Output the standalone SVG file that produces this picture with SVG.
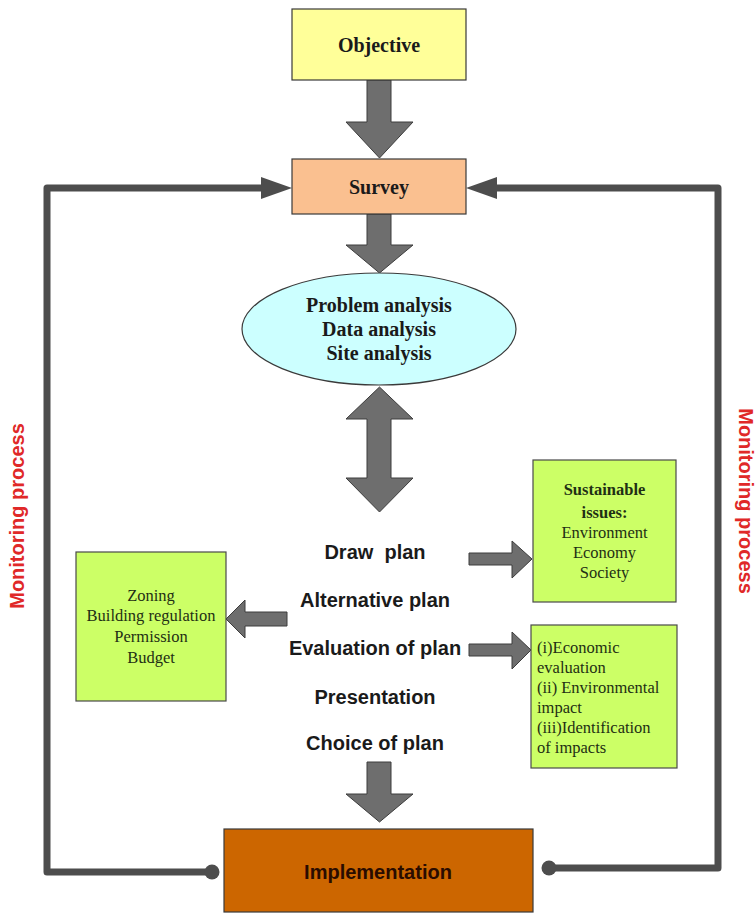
<svg xmlns="http://www.w3.org/2000/svg" width="756" height="913" viewBox="0 0 756 913">
<style>
  .box { stroke: #3a3a3a; stroke-width: 1.2; }
  .green { fill: #ccff66; stroke: #4a4a4a; stroke-width: 1.2; }
  .serifB { font-family: "Liberation Serif", "Times New Roman", serif; font-weight: bold; font-size: 20px; fill: #1a1a1a; text-anchor: middle; }
  .serif { font-family: "Liberation Serif", "Times New Roman", serif; font-size: 16.5px; fill: #1f2f14; }
  .serifSB { font-family: "Liberation Serif", "Times New Roman", serif; font-size: 16.5px; font-weight: bold; fill: #1f2f14; }
  .step { font-family: "Liberation Sans", Arial, sans-serif; font-weight: bold; font-size: 20px; fill: #1a1a1a; text-anchor: middle; }
  .mon { font-family: "Liberation Sans", Arial, sans-serif; font-weight: bold; font-size: 20px; fill: #e02828; text-anchor: middle; }
  .block { fill: #6e6e6e; stroke: #3c3c3c; stroke-width: 1; stroke-linejoin: miter; }
  .loop { fill: none; stroke: #4d4d4d; stroke-width: 7; stroke-linejoin: round; }
  .head { fill: #4d4d4d; }
</style>

<g id="connectors">
  <polygon class="block" points="367,80 391,80 391,122 413,122 379.5,158 346,122 367,122"/>
  <polygon class="block" points="367,214 391,214 391,245 413,245 379.5,273 346,245 367,245"/>
  <polygon class="block" points="379.5,387 413,419 391,419 391,478 413,478 379.5,512 346,478 367,478 367,419 346,419"/>
  <polygon class="block" points="469,553 512,553 512,541 532,559 512,578 512,565 469,565"/>
  <polygon class="block" points="287,612 245,612 245,600 226,619 245,638 245,626 287,626"/>
  <polygon class="block" points="469,644 512,644 512,632 531,650 512,669 512,656 469,656"/>
  <polygon class="block" points="367,762 391,762 391,794 413,794 379.5,822 346,794 367,794"/>
  <path class="loop" d="M212,872 H47 V188 H264"/>
  <polygon class="head" points="261,177 292,188 261,199"/>
  <circle class="head" cx="212" cy="872" r="7.5"/>
  <path class="loop" d="M549,868 H718 V188 H494"/>
  <polygon class="head" points="497,177 466,188 497,199"/>
  <circle class="head" cx="549" cy="868" r="7.5"/>
</g>

<g id="objective">
  <rect class="box" x="292" y="9" width="174" height="71" fill="#ffff99"/>
  <text class="serifB" x="379" y="52">Objective</text>
</g>

<g id="survey">
  <rect class="box" x="292" y="159" width="174" height="55" fill="#fac090"/>
  <text class="serifB" x="379" y="194">Survey</text>
</g>

<g id="analysis">
  <ellipse class="box" cx="379" cy="329" rx="137" ry="56" fill="#ccffff"/>
  <text class="serifB" x="379" y="312">Problem analysis</text>
  <text class="serifB" x="379" y="336">Data analysis</text>
  <text class="serifB" x="379" y="360">Site analysis</text>
</g>

<g id="draw-plan"><text class="step" x="375" y="559" xml:space="preserve">Draw  plan</text></g>
<g id="alternative-plan"><text class="step" x="375" y="607">Alternative plan</text></g>
<g id="evaluation-of-plan"><text class="step" x="375" y="655">Evaluation of plan</text></g>
<g id="presentation"><text class="step" x="375" y="704">Presentation</text></g>
<g id="choice-of-plan"><text class="step" x="375" y="750">Choice of plan</text></g>

<g id="sustainable">
  <rect class="green" x="533" y="460" width="143" height="142"/>
  <text class="serifSB" x="604.5" y="495" text-anchor="middle">Sustainable</text>
  <text class="serifSB" x="604.5" y="518" text-anchor="middle">issues:</text>
  <text class="serif" x="604.5" y="538" text-anchor="middle">Environment</text>
  <text class="serif" x="604.5" y="558" text-anchor="middle">Economy</text>
  <text class="serif" x="604.5" y="578" text-anchor="middle">Society</text>
</g>

<g id="zoning">
  <rect class="green" x="76" y="552" width="150" height="149"/>
  <text class="serif" x="151" y="601" text-anchor="middle">Zoning</text>
  <text class="serif" x="151" y="621" text-anchor="middle">Building regulation</text>
  <text class="serif" x="151" y="642" text-anchor="middle">Permission</text>
  <text class="serif" x="151" y="663" text-anchor="middle">Budget</text>
</g>

<g id="evaluation">
  <rect class="green" x="531" y="625" width="146" height="143"/>
  <text class="serif" x="537" y="653">(i)Economic</text>
  <text class="serif" x="537" y="673">evaluation</text>
  <text class="serif" x="537" y="693">(ii) Environmental</text>
  <text class="serif" x="537" y="713">impact</text>
  <text class="serif" x="537" y="733">(iii)Identification</text>
  <text class="serif" x="537" y="753">of impacts</text>
</g>

<g id="implementation">
  <rect class="box" x="224" y="829" width="309" height="83" fill="#cc6600"/>
  <text class="step" x="378" y="879" style="fill:#2a0c00">Implementation</text>
</g>

<g id="monitoring-left">
  <text class="mon" transform="translate(24,516) rotate(-90)">Monitoring process</text>
</g>
<g id="monitoring-right">
  <text class="mon" transform="translate(739,501) rotate(90)">Monitoring process</text>
</g>
</svg>
